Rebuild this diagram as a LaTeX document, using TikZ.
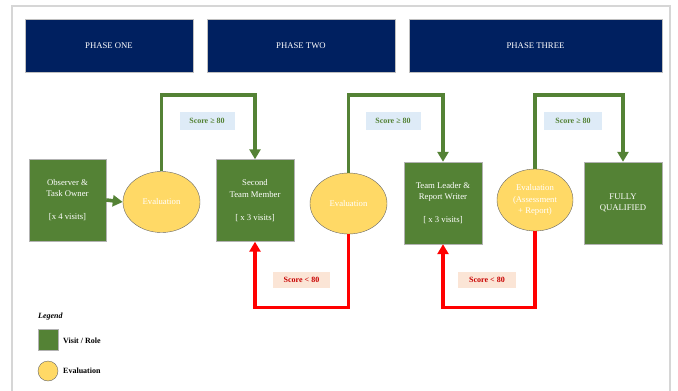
\documentclass[tikz,border=0pt]{standalone}
\usepackage{fontspec}
\setmainfont{Liberation Serif}
\usetikzlibrary{arrows.meta,shapes.geometric}
\definecolor{navy}{RGB}{0,32,96}
\definecolor{rolegreen}{RGB}{84,130,53}
\definecolor{evalyellow}{RGB}{255,217,102}
\definecolor{passblue}{RGB}{222,235,247}
\definecolor{failpink}{RGB}{251,229,214}
\definecolor{failred}{RGB}{200,0,0}
\definecolor{framegray}{RGB}{214,214,214}

\begin{document}
\begin{tikzpicture}[x=1pt,y=-1pt,
  txt/.style={font=\fontsize{8.7}{11.5}\selectfont,align=center},
  phase/.style={txt,draw=gray!50,fill=navy,text=white,minimum height=53pt,inner sep=0pt},
  role/.style={txt,draw=gray!60,fill=rolegreen,text=white,minimum width=78pt,minimum height=82pt,inner sep=0pt},
  eval/.style={txt,draw=gray!80!black,fill=evalyellow,text=white,ellipse,minimum width=77pt,minimum height=61pt,inner sep=0pt},
  pass/.style={font=\fontsize{8}{10}\selectfont\bfseries,fill=passblue,text=rolegreen,minimum width=55pt,minimum height=18pt,inner sep=0pt},
  fail/.style={font=\fontsize{8}{10}\selectfont\bfseries,fill=failpink,text=failred,minimum width=57pt,minimum height=16pt,inner sep=0pt},
  passline/.style={rolegreen,line width=3.6pt,-{Triangle[length=10pt,width=11pt]}},
  failline/.style={red,line width=3.6pt,-{Triangle[length=10pt,width=11pt]}},
  legendtxt/.style={font=\fontsize{8}{10}\selectfont\bfseries,anchor=west,inner sep=0pt}]

  \useasboundingbox (0,0) rectangle (678,391);
  \draw[framegray,line width=1.5pt] (12,391) -- (12,6) -- (670,6) -- (670,391);

  % phases
  \node[phase,minimum width=168pt] (ph1) at (109,45.5) {PHASE ONE};
  \node[phase,minimum width=188pt] (ph2) at (301,45.5) {PHASE TWO};
  \node[phase,minimum width=253pt] (ph3) at (535.5,45.5) {PHASE THREE};

  % roles and evaluations
  \node[role,minimum width=77pt] (role1) at (67.5,200) {Observer \&\\Task Owner\\[11.5pt]{}[x 4 visits]};
  \node[eval] (ev1) at (161.5,202) {Evaluation};
  \node[role] (role2) at (255,200.5) {Second\\Team Member\\[11.5pt]{}[ x 3 visits]};
  \node[eval] (ev2) at (348.5,203.5) {Evaluation};
  \node[role] (role3) at (443,203) {Team Leader \&\\Report Writer\\[11.5pt]{}[ x 3 visits]};
  \node[eval,minimum width=76pt,minimum height=62pt] (ev3) at (535,200) {Evaluation\\(Assessment\\+ Report)};
  \node[role] (done) at (623,203) {FULLY\\QUALIFIED};

  % score labels
  \node[pass] (pass1) at (207,121) {Score ≥ 80};
  \node[pass] (pass2) at (393,121) {Score ≥ 80};
  \node[pass,minimum width=58pt] (pass3) at (573,121) {Score ≥ 80};
  \node[fail] (fail1) at (301.5,280) {Score < 80};
  \node[fail,minimum width=58pt] (fail2) at (487,280) {Score < 80};

  \coordinate (top) at (0,95);
  \coordinate (bottom) at (0,307.5);

  % connectors
  \draw[passline] (role1.east) -- (ev1.west);
  \draw[passline] (ev1.north) -- (ev1.north |- top) -| (role2.north);
  \draw[passline] (ev2.north) -- (ev2.north |- top) -| (role3.north);
  \draw[passline] (ev3.north) -- (ev3.north |- top) -| (done.north);
  \draw[failline] (ev2.south) -- (ev2.south |- bottom) -| (role2.south);
  \draw[failline] (ev3.south) -- (ev3.south |- bottom) -| (role3.south);

  % legend
  \node[font=\fontsize{8}{10}\selectfont\bfseries\itshape,anchor=west,inner sep=0pt] (legtitle) at (38,317) {Legend};
  \node[draw=gray!60,fill=rolegreen,minimum width=20pt,minimum height=21pt,inner sep=0pt] (legrole) at (48,339.5) {};
  \node[legendtxt] (legroletxt) at (63,341) {Visit / Role};
  \node[draw=gray!80!black,fill=evalyellow,circle,minimum size=20pt,inner sep=0pt] (legeval) at (48,371) {};
  \node[legendtxt] (legevaltxt) at (63,371) {Evaluation};
\end{tikzpicture}
\end{document}
